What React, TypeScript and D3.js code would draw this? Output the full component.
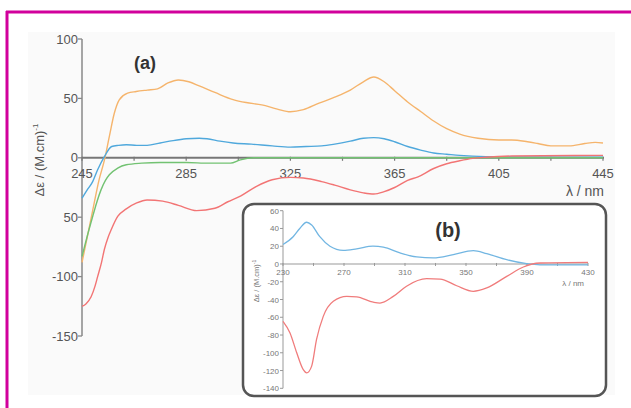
import React from 'react';
import * as d3 from 'd3';

// ---- main panel (a) data, wavelength in nm, Δε in M^-1 cm^-1
const orangeNm = [245, 247, 249.5, 251.5, 253.6, 255.5, 257.4, 259.3, 262.5, 265.8, 270, 274, 278, 282, 286, 290, 296, 303, 308, 314, 320, 325, 330, 336, 342, 348, 353, 357, 361, 365, 370, 375, 380, 385, 390, 397, 405, 410, 416, 420, 425, 432, 438, 442, 445];
const orangeVal = [-88, -67, -40, -19, -2, 18, 37.5, 48.8, 54.4, 55.8, 57, 58, 63, 65.5, 64, 60.5, 55, 49, 46.5, 44.5, 41, 38.7, 40.5, 46, 51, 57, 64, 68, 64, 56.5, 47, 39, 31, 24.5, 20, 16.5, 15, 15, 13.5, 12, 10, 10, 12, 13, 12.5];

const blueNm = [245, 247, 249.1, 251, 253.6, 256.4, 259, 262, 266, 270, 275, 280, 285, 290, 293, 298, 303, 310, 318, 325, 331, 337, 342, 348, 353, 357, 361, 365, 370, 375, 380, 385, 390, 400, 410, 445];
const blueVal = [-34, -27, -20, -10, 1, 9.5, 10.5, 11, 10.5, 10.5, 12.5, 14.5, 16, 16.5, 16, 14, 12.5, 11.5, 10, 9, 9.5, 10, 11.5, 14, 16.5, 17, 16, 13.5, 9.5, 6.5, 4, 3, 2, 1, 0.8, 0.5];

const greenNm = [245, 247, 249.1, 250.6, 252.3, 254, 255.5, 258.7, 262, 268, 275, 285, 294, 302, 305.8, 310.8, 320, 445];
const greenVal = [-83, -66, -49.4, -38, -27, -19, -14.3, -8.7, -5.9, -4.5, -3.9, -4, -4.5, -4.5, -1.7, 0, 0, 0];

const redNm = [245, 246.5, 248.5, 250, 251, 252.5, 253.6, 255, 256.2, 258.7, 262, 266, 270, 276, 282, 289, 296, 301, 306, 312, 318, 325, 330, 337, 342, 348, 353, 357, 361, 365, 370, 374, 380, 385, 390, 395, 400, 410, 445];
const redVal = [-125, -123, -117, -108, -100, -88, -77, -67, -60.6, -49.4, -43, -38, -35.5, -36.5, -40, -44.5, -42.5, -37, -32, -24, -18.5, -16.5, -17, -20, -23, -27, -29.5, -30.5, -28.5, -25, -19, -16, -9, -5, -2.5, -0.5, 0.5, 1.5, 2];

const mainXTicks = [245, 285, 325, 365, 405, 445];
const mainYTicks = [100, 50, 0, -50, -100, -150];
const mainYTickLabels = ['100', '50', '0', '50', '-100', '-150'];

// ---- inset (b) data
const insetBlueNm = [230, 236.8, 241, 245.5, 248.8, 254, 260.8, 269.5, 278.3, 289, 295.8, 306.7, 317.7, 328.6, 341.7, 354.8, 363.6, 376.7, 389.8, 398.5, 430];
const insetBlueVal = [22, 31, 40, 47, 44, 31, 20, 15.3, 17, 20, 19, 12.4, 7.9, 6.8, 10.5, 15, 11.6, 4.8, 0.3, -1, -1];

const insetRedNm = [230, 234.6, 239, 243.3, 245.5, 248.8, 252, 256.4, 263, 271.8, 278.3, 289.2, 293.6, 302.3, 311, 324.2, 333, 343.9, 354.8, 363.6, 376.7, 387.6, 398.5, 430];
const insetRedVal = [-64.6, -77.7, -100, -119, -122.7, -115, -85, -59, -42, -36.5, -37, -43, -44, -36.5, -25, -16.6, -17, -24.5, -30.8, -27, -14, -3.4, 1.1, 1.8];

const insetXTicks = [230, 270, 310, 350, 390, 430];
const insetYTicks = [60, 40, 20, 0, -20, -40, -60, -80, -100, -120, -140];

const FONT = '"Liberation Sans", Arial, sans-serif';

export default function App() {
  // main scales
  const x = d3.scaleLinear().domain([245, 445]).range([82, 603]);
  const y = d3.scaleLinear().domain([-150, 100]).range([336, 39]);
  // inset scales
  const xi = d3.scaleLinear().domain([230, 430]).range([283, 588]);
  const yi = d3.scaleLinear().domain([-140, 60]).range([388.3, 210.7]);

  const path = (nm: number[], val: number[], sx: any, sy: any) =>
    d3.line<number>()
      .x((_, i) => sx(nm[i]))
      .y((d) => sy(d))
      .curve(d3.curveMonotoneX)(val) || '';

  const minorMain = d3.range(245, 446, 20);
  const minorInset = d3.range(230, 431, 20);

  return (
    <svg width={631} height={408} style={{ position: 'absolute', left: 0, top: 0, background: '#fff' }} fontFamily={FONT}>
      {/* magenta frame */}
      <line x1={6} x2={631} y1={12} y2={12} stroke="#d1009c" strokeWidth={3} />
      <line x1={7} x2={7} y1={11} y2={408} stroke="#d1009c" strokeWidth={3} />
      <rect x={28} y={32} width={587} height={363} fill="#fafafa" />

      {/* main axes */}
      <line x1={x(245)} x2={x(245)} y1={y(100)} y2={y(-150)} stroke="#888" strokeWidth={1.5} />
      {mainYTicks.map((t, i) => (
        <g key={t}>
          <line x1={x(245) - 4} x2={x(245)} y1={y(t)} y2={y(t)} stroke="#888" strokeWidth={1.3} />
          <text x={x(245) - 4} y={y(t) + 4.5} fontSize={13} fill="#555" textAnchor="end">{mainYTickLabels[i]}</text>
        </g>
      ))}
      <line x1={x(245)} x2={x(445) + 1} y1={y(0)} y2={y(0)} stroke="#777" strokeWidth={2} />
      {minorMain.map((t) => (
        <line key={t} x1={x(t)} x2={x(t)} y1={y(0) - 1} y2={y(0) + 3} stroke="#777" strokeWidth={1.2} />
      ))}
      {mainXTicks.map((t) => (
        <text key={t} x={x(t)} y={y(0) + 20} fontSize={13} fill="#555" textAnchor="middle">{t}</text>
      ))}
      <text x={604} y={196} fontSize={14} fill="#555" textAnchor="end">λ / nm</text>
      <text transform="translate(44,160) rotate(-90)" fontSize={13} fill="#555" textAnchor="middle">
        Δε / (M.cm)<tspan fontSize={8} dy={-6}>-1</tspan>
      </text>
      <text x={134} y={69} fontSize={18} fontWeight="bold" fill="#333">(a)</text>

      {/* main curves */}
      <path d={path(orangeNm, orangeVal, x, y)} fill="none" stroke="#f5b46c" strokeWidth={1.4} />
      <path d={path(blueNm, blueVal, x, y)} fill="none" stroke="#4fa8dc" strokeWidth={1.4} />
      <path d={path(greenNm, greenVal, x, y)} fill="none" stroke="#72c272" strokeWidth={1.4} />
      <path d={path(redNm, redVal, x, y)} fill="none" stroke="#f27474" strokeWidth={1.4} />

      {/* inset (b) */}
      <rect x={243} y={204} width={363} height={192} rx={11} fill="#fff" stroke="#555" strokeWidth={2.5} />
      <line x1={xi(230)} x2={xi(230)} y1={yi(60)} y2={yi(-140)} stroke="#999" strokeWidth={1} />
      {insetYTicks.map((t) => (
        <g key={t}>
          <line x1={xi(230) - 3} x2={xi(230)} y1={yi(t)} y2={yi(t)} stroke="#999" strokeWidth={1} />
          <text x={xi(230) - 4} y={yi(t) + 3} fontSize={8} fill="#777" textAnchor="end">{t}</text>
        </g>
      ))}
      <line x1={xi(230)} x2={xi(430)} y1={yi(0)} y2={yi(0)} stroke="#999" strokeWidth={1.2} />
      {minorInset.map((t) => (
        <line key={t} x1={xi(t)} x2={xi(t)} y1={yi(0) - 1} y2={yi(0) + 2} stroke="#999" strokeWidth={1} />
      ))}
      {insetXTicks.map((t) => (
        <text key={t} x={xi(t)} y={yi(0) + 11} fontSize={8} fill="#777" textAnchor="middle">{t}</text>
      ))}
      <text x={584} y={286} fontSize={8} fill="#777" textAnchor="end">λ / nm</text>
      <text transform="translate(259,281) rotate(-90)" fontSize={7.5} fill="#777" textAnchor="middle">
        Δε / (M.cm)<tspan fontSize={5} dy={-3}>-1</tspan>
      </text>
      <text x={448} y={237} fontSize={20} fontWeight="bold" fill="#333" textAnchor="middle">(b)</text>

      <path d={path(insetBlueNm, insetBlueVal, xi, yi)} fill="none" stroke="#72b6e2" strokeWidth={1.3} />
      <path d={path(insetRedNm, insetRedVal, xi, yi)} fill="none" stroke="#f07c7c" strokeWidth={1.3} />
    </svg>
  );
}
